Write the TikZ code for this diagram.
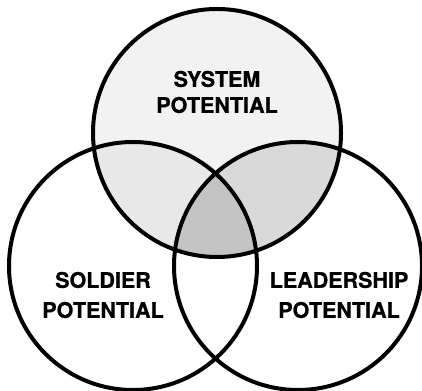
\documentclass[tikz,border=0pt]{standalone}
\usepackage{fontspec}
\setmainfont{TeX Gyre Heros}[BoldFeatures={FakeBold=0.8}]
\usetikzlibrary{positioning}
\definecolor{sysgray}{gray}{0.95}
\definecolor{soldgray}{gray}{0.91}
\definecolor{leadgray}{gray}{0.85}
\definecolor{allgray}{gray}{0.77}
\tikzset{
  ring/.style={circle,draw,line width=4pt,minimum size=248pt,inner sep=0},
  lab/.style={font=\fontsize{21.5}{26}\selectfont\bfseries,align=center,inner sep=0},
}

\begin{document}
\begin{tikzpicture}[x=1pt,y=1pt]
  \useasboundingbox (0,0) rectangle (422,390);
  % centres of the three circles
  \coordinate (S) at (217,257);
  \coordinate (L) at (133,124);
  \coordinate (R) at (298,124);
  % the upper circle is stippled, its overlaps get darker
  \fill[sysgray] (S) circle (124);
  \begin{scope}
    \clip (S) circle (124);
    \fill[soldgray] (L) circle (124);
    \fill[leadgray] (R) circle (124);
    \clip (L) circle (124);
    \fill[allgray] (R) circle (124);
  \end{scope}
  \node[ring] (system) at (S) {};
  \node[ring] (soldier) at (L) {};
  \node[ring] (leader) at (R) {};
  % labels
  \node[lab] (systemlab) at (217,298) {SYSTEM\\POTENTIAL};
  \node[lab] (soldierlab) at (103,95) {SOLDIER\\[4pt]POTENTIAL};
  \node[lab] (leaderlab) at (339,95) {LEADERSHIP\\[4pt]POTENTIAL};
\end{tikzpicture}
\end{document}
